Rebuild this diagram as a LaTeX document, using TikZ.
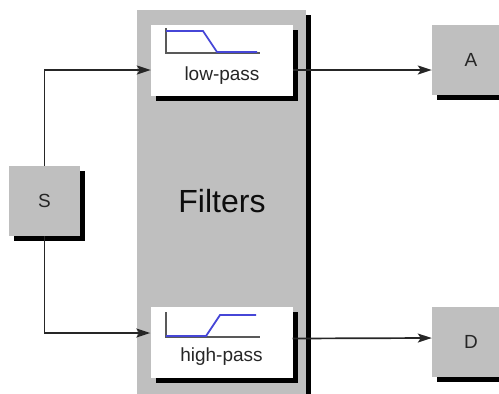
\documentclass[tikz,border=0pt]{standalone}
\usepackage{fontspec}
\setmainfont{Liberation Sans}
\usetikzlibrary{arrows.meta,shadows}
\definecolor{respblue}{RGB}{70,70,215}

\begin{document}
\begin{tikzpicture}[
  x=1pt, y=1pt,
  every node/.style={font=\fontsize{19}{21}\selectfont, text=black!85},
  greybox/.style={rectangle, fill=black!25, inner sep=0pt, minimum width=71pt, minimum height=70pt,
    drop shadow={shadow xshift=5pt, shadow yshift=-5pt, fill=black, opacity=1}},
  filterbox/.style={rectangle, fill=white, inner sep=0pt, minimum width=142pt, minimum height=71pt,
    drop shadow={shadow xshift=5pt, shadow yshift=-5pt, fill=black, opacity=1}},
  arr/.style={draw=black!85, line width=1.7pt, -{Stealth[length=14pt, width=9pt, inset=3pt]}},
  axis/.style={draw=black!65, line width=1.8pt},
  resp/.style={draw=respblue, line width=1.8pt},
]
  \useasboundingbox (0,0) rectangle (499,-394);

  \node[greybox, minimum width=169pt, minimum height=388pt, font=\fontsize{32}{36}\selectfont, text=black!95,
    drop shadow={shadow xshift=4pt, shadow yshift=-6pt, fill=black, opacity=1}] (filt) at (221.5,-204) {};
  \node (filttext) at (222,-201) [font=\fontsize{32}{36}\selectfont, text=black!95] {Filters};
  \node[filterbox] (lp) at (222,-60) {};
  \node[filterbox] (hp) at (221.5,-342.5) {};
  \node (lptext) at ([yshift=-16pt]lp.center) {low-pass};
  \node (hptext) at ([yshift=-14.5pt]hp.center) {high-pass};

  \node[greybox] (s) at (44.5,-201) {S};
  \node[greybox, minimum width=78pt] (a) at (471,-60) {A};
  \node[greybox, minimum width=78pt] (d) at (471,-342) {D};

  % low-pass curve
  \begin{scope}[shift={(lp.center)}]
    \draw[axis] (-56,32) -- (-56,7) -- (38,7);
    \draw[resp] (-56,29) -- (-19,29) -- (-5,8) -- (35,8);
  \end{scope}
  % high-pass curve
  \begin{scope}[shift={(hp.center)}]
    \draw[axis] (-55.5,30.5) -- (-55.5,5.5) -- (38.5,5.5);
    \draw[resp] (-55.5,6.5) -- (-15.5,6.5) -- (-1.5,27.5) -- (34.5,27.5);
  \end{scope}

  \draw[arr] (s.north) |- ([yshift=-10pt]lp.west);
  \draw[arr] (s.south) |- ([yshift=9.5pt]hp.west);
  \draw[arr] ([yshift=-10pt]lp.east) -- ([yshift=-10pt]a.west);
  \draw[arr] ([yshift=4pt]hp.east) -- ([yshift=4pt]d.west);
\end{tikzpicture}
\end{document}
